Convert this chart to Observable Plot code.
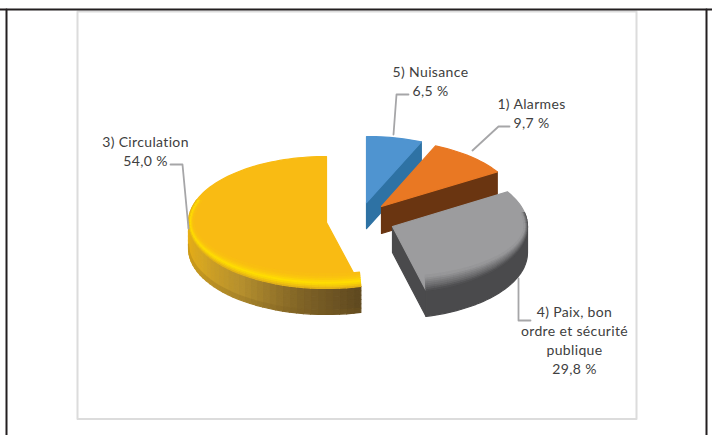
<!DOCTYPE html>
<html><head><meta charset="utf-8">
<script src="https://cdn.jsdelivr.net/npm/d3@7"></script>
<script src="https://cdn.jsdelivr.net/npm/@observablehq/plot@0.6"></script>
<style>html,body{margin:0;padding:0;background:#fff}svg{display:block}</style>
</head><body><div id="chart"></div>
<script>
// Data, in pie order (clockwise from 12 o'clock)
const categories = ["5) Nuisance", "1) Alarmes", "4) Paix, bon\nordre et sécurité\npublique", "3) Circulation"];
const values = [6.5, 9.7, 29.8, 54.0];
const valueLabels = ["6,5 %", "9,7 %", "29,8 %", "54,0 %"];
const topColors = ["#4F94D0", "#E97823", "#9C9C9E", "#F9BB13"];
const wallColors = ["#2E72A4", "#6A3511", "#4A4A4C", "#B08C30"];

// 3D layout of the exploded slices
const centerX = [366, 381, 392, 326];
const centerY = [202, 206, 226, 222];
const radiusX = [138, 136, 135, 138];
const radiusY = [66, 66, 66, 66];
const depths = [26, 27, 26, 26];

// Label placement and leaders
const labelX = [430, 531, 574, 145];
const labelY = [80, 112, 339, 150];
const leaderX = [[393, 396, 408], [472, 498, 509], [518, 518, 530], [170, 182, 188]];
const leaderY = [[134, 94, 94], [150, 126, 126], [278, 320, 320], [164, 164, 228]];

const rad = d => d * Math.PI / 180;
let acc = 0;
const slices = values.map((v, i) => {
  const a0 = acc / 100 * 360; acc += v; const a1 = acc / 100 * 360;
  return {i, a0, a1, cx: centerX[i], cy: centerY[i], rx: radiusX[i], ry: radiusY[i], d: depths[i]};
});
const pt = (s, a, scale = 1, dy = 0) => [
  s.cx + s.rx * scale * Math.sin(rad(a)),
  s.cy - s.ry * scale * Math.cos(rad(a)) + dy
];

const polys = [];
let pid = 0;
function poly(points, fill) {
  const id = pid++;
  for (const p of points) polys.push({id, x: p[0], y: p[1], fill});
}
function arcPts(s, a0, a1, scale = 1, dy = 0) {
  const n = Math.max(2, Math.ceil((a1 - a0) / 2)), out = [];
  for (let k = 0; k <= n; k++) out.push(pt(s, a0 + (a1 - a0) * k / n, scale, dy));
  return out;
}
function cutWall(s, a) {
  const e = pt(s, a);
  poly([[s.cx, s.cy], e, [e[0], e[1] + s.d], [s.cx, s.cy + s.d]], wallColors[s.i]);
}
function topFace(s) {
  poly([[s.cx, s.cy], ...arcPts(s, s.a0, s.a1)], topColors[s.i]);
}
function band(s, a0, a1, color, rows, geom, step = 3) {
  for (let a = a0; a < a1 - 1e-6; a += step) {
    const b = Math.min(a + step, a1);
    for (let r = 0; r < rows; r++) {
      const u0 = r / rows, u1 = (r + 1) / rows;
      poly([geom(a, u0), geom(b, u0), geom(b, u1), geom(a, u1)], color((a + b) / 2, (u0 + u1) / 2));
    }
  }
}
const yellowWall = d3.scaleLinear().domain([165.6, 190, 218, 245, 270]).range(["#5E4820", "#7E6226", "#B58F2E", "#D6A622", "#E8AE14"]).clamp(true);
const yellowRim = d3.scaleLinear().domain([0, .12, .4, .7, 1]).range(["#D9A81E", "#EDBB12", "#FFE000", "#FBC80E", "#F9BB13"]);
const grayRim = d3.scaleLinear().domain([0, .35, 1]).range(["#4A4A4C", "#6A6A6C", "#9C9C9E"]);

// Blue
cutWall(slices[0], slices[0].a1);
topFace(slices[0]);
// Orange
cutWall(slices[1], slices[1].a1);
topFace(slices[1]);
// Gray
cutWall(slices[2], slices[2].a1);
topFace(slices[2]);
{
  const s = slices[2];
  poly([...arcPts(s, 90, s.a1), ...arcPts(s, 90, s.a1, 1, s.d).reverse()], wallColors[2]);
  band(s, 78, s.a1, (a, u) => grayRim(u), 8, (a, u) => {
    const f = Math.max(0, -Math.cos(rad(a)));
    return pt(s, a, 1 - 0.025 * u, -14 * Math.pow(f, .8) * u);
  });
}
// Yellow
topFace(slices[3]);
{
  const s = slices[3];
  band(s, s.a0, 270, (a, u) => d3.interpolateRgb(yellowWall(a), "#7A5C1C")(u > .86 ? (u - .86) * 4 : 0), 6, (a, u) => pt(s, a, 1, u * s.d));
  band(s, s.a0, 290, (a, u) => yellowRim(u), 8, (a, u) => {
    const f = Math.max(0, -Math.cos(rad(a)));
    return pt(s, a, 1 - 0.04 * u, -12 * Math.pow(f, .8) * u);
  });
}

const leaders = leaderX.flatMap((xs, i) => xs.map((x, k) => ({i, x, y: leaderY[i][k]})));
const labels = categories.map((c, i) => ({x: labelX[i], y: labelY[i], text: c + "\n" + valueLabels[i]}));

// Page frames
const blackFrameX = [6, 6], blackFrameY = [435, 9];
const grayFrameX = [77, 636, 636, 77, 77], grayFrameY = [11, 11, 418.5, 418.5, 11];
const frameTop = [{x: 0, y: 9}, {x: 712, y: 9}];
const frameRight = [{x: 706, y: 9}, {x: 706, y: 435}];

const chart = Plot.plot({
  width: 712, height: 435,
  margin: 0,
  style: {background: "#fff", fontVariantLigatures: "none", letterSpacing: "0.35px"},
  x: {domain: [0, 712], range: [0, 712], axis: null},
  y: {domain: [0, 435], range: [0, 435], axis: null},
  color: {type: "identity"},
  marks: [
    Plot.line(grayFrameX.map((x, i) => ({x, y: grayFrameY[i]})), {x: "x", y: "y", stroke: "#DCDCDC", strokeWidth: 2}),
    Plot.line(blackFrameX.map((x, i) => ({x, y: blackFrameY[i]})), {x: "x", y: "y", stroke: "#231F20", strokeWidth: 2}),
    Plot.line(frameTop, {x: "x", y: "y", stroke: "#231F20", strokeWidth: 2}),
    Plot.line(frameRight, {x: "x", y: "y", stroke: "#231F20", strokeWidth: 2}),
    Plot.line(polys, {x: "x", y: "y", z: "id", fill: "fill", stroke: "fill", strokeWidth: 1.2, curve: "linear-closed"}),
    Plot.line(leaders, {x: "x", y: "y", z: "i", stroke: "#A6A6A8", strokeWidth: 1.8}),
    Plot.text(labels, {x: "x", y: "y", text: "text", fontFamily: "Lato, 'Open Sans', sans-serif", fontSize: 14, fill: "#404040", textAnchor: "middle", lineHeight: 1.36, lineAnchor: "middle"})
  ]
});
document.getElementById("chart").appendChild(chart);
</script></body></html>
